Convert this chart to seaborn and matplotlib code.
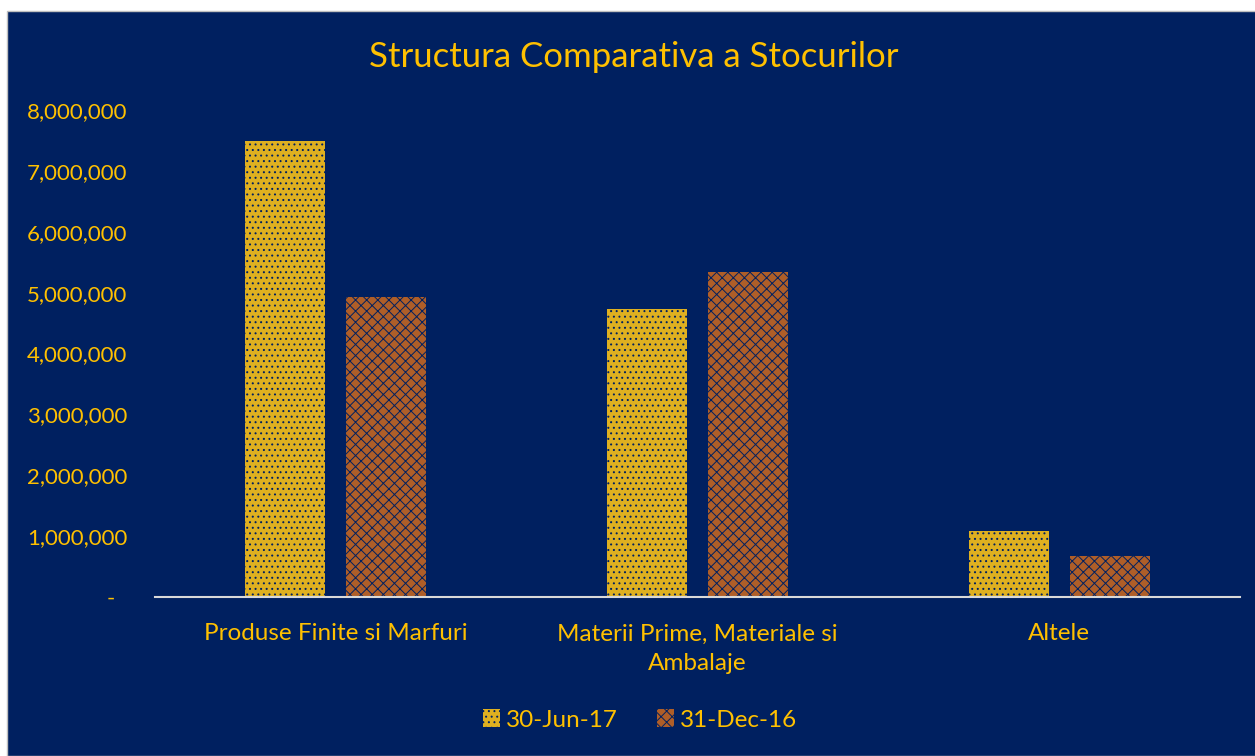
import matplotlib
matplotlib.use("Agg")
import matplotlib.pyplot as plt
from matplotlib.patches import Rectangle
from matplotlib.ticker import FuncFormatter
import seaborn as sns
import pandas as pd

categories = ["Produse Finite si Marfuri", "Materii Prime, Materiale si\nAmbalaje", "Altele"]
series_names = ["30-Jun-17", "31-Dec-16"]
values_jun17 = [7490000, 4730000, 1080000]
values_dec16 = [4930000, 5340000, 670000]
title = "Structura Comparativa a Stocurilor"

NAVY = "#002060"
GOLD = "#FFC000"
ORANGE = "#C55A11"

sns.set_theme(style="white")
plt.rcParams["font.family"] = ["Lato", "DejaVu Sans"]
plt.rcParams["hatch.linewidth"] = 0.7

df = pd.DataFrame({
    "cat": categories * 2,
    "series": [series_names[0]] * 3 + [series_names[1]] * 3,
    "value": values_jun17 + values_dec16,
})

fig = plt.figure(figsize=(12.55, 7.56), dpi=100)
fig.patch.set_facecolor("white")
bg = Rectangle((7 / 1255, 0), 1, 1 - 11 / 756, transform=fig.transFigure,
               facecolor=NAVY, edgecolor="#BFBFBF", linewidth=1.0, zorder=-10)
fig.patches.append(bg)

ax = fig.add_axes([155 / 1255, 1 - 597 / 756, (1240 - 155) / 1255, (597 - 110) / 756])
ax.set_facecolor("none")

sns.barplot(data=df, x="cat", y="value", hue="series", palette=[GOLD, ORANGE],
            width=0.56, gap=0.21, edgecolor=NAVY, linewidth=0, ax=ax, legend=False)

hatches = ["...", "xxx"]
for cont, h in zip(ax.containers, hatches):
    for bar in cont:
        bar.set_hatch(h)
        bar.set_edgecolor(NAVY)
        bar.set_linewidth(0)

ax.set_xlim(-0.5, 2.5)
ax.set_ylim(0, 8000000)
ax.set_yticks(range(0, 8000001, 1000000))
ax.yaxis.set_major_formatter(FuncFormatter(lambda v, p: "-  " if v == 0 else f"{int(v):,}"))
ax.set_xlabel("")
ax.set_ylabel("")
for s in ["top", "right", "left"]:
    ax.spines[s].set_visible(False)
ax.spines["bottom"].set_color("#D9D9D9")
ax.spines["bottom"].set_linewidth(1.5)
ax.tick_params(axis="y", colors=GOLD, labelsize=16, length=0, pad=20)
ax.tick_params(axis="x", colors=GOLD, labelsize=17.5, length=0, pad=19)
for lbl in ax.get_xticklabels():
    lbl.set_linespacing(1.5)

fig.text(0.505, 1 - 57 / 756, title, ha="center", va="center", color=GOLD, fontsize=25)

leg = fig.legend(handles=[ax.containers[0][0], ax.containers[1][0]], labels=series_names,
                 loc="center", bbox_to_anchor=(0.51, 1 - 720 / 756), ncol=2, frameon=False,
                 fontsize=17.5, handlelength=0.7, handleheight=0.7, handletextpad=0.25,
                 columnspacing=1.6)
for t in leg.get_texts():
    t.set_color(GOLD)

fig.savefig("out.png", dpi=100, facecolor=fig.get_facecolor())
